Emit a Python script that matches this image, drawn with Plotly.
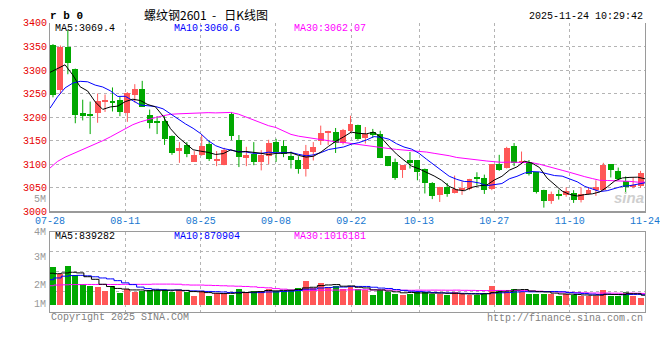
import plotly.graph_objects as go
import pandas as pd

# ---------------- data ----------------
dates = [
    "07-28","07-29","07-30","07-31","08-01","08-04","08-05","08-06","08-07","08-08",
    "08-11","08-12","08-13","08-14","08-15","08-18","08-19","08-20","08-21","08-22",
    "08-25","08-26","08-27","08-28","08-29","09-01","09-02","09-03","09-04","09-05",
    "09-08","09-09","09-10","09-11","09-12","09-15","09-16","09-17","09-18","09-19",
    "09-22","09-23","09-24","09-25","09-26","09-29","09-30","10-09","10-10","10-13",
    "10-14","10-15","10-16","10-17","10-20","10-21","10-22","10-23","10-24","10-27",
    "10-28","10-29","10-30","10-31","11-03","11-04","11-05","11-06","11-07","11-10",
    "11-11","11-12","11-13","11-14","11-17","11-18","11-19","11-20","11-21","11-24",
]
tick_labels = ["07-28", "08-11", "08-25", "09-08", "09-22", "10-13", "10-27", "11-10", "11-24"]

opens = [3353, 3258, 3350, 3302, 3210, 3207, 3209, 3234, 3235, 3236,
         3209, 3248, 3261, 3205, 3190, 3192, 3161, 3130, 3141, 3106,
         3120, 3143, 3108, 3098, 3207, 3151, 3115, 3121, 3106, 3118,
         3147, 3139, 3117, 3110, 3091, 3127, 3149, 3167, 3168, 3146,
         3171, 3183, 3156, 3168, 3164, 3117, 3106, 3088, 3110, 3109,
         3091, 3060, 3035, 3053, 3040, 3045, 3047, 3072, 3072, 3047,
         3100, 3093, 3139, 3103, 3106, 3083, 3046, 3023, 3038, 3035,
         3040, 3025, 3038, 3046, 3046, 3100, 3086, 3064, 3053, 3055]
closes = [3248, 3350, 3316, 3205, 3203, 3203, 3235, 3236, 3231, 3212,
          3251, 3260, 3222, 3188, 3188, 3154, 3125, 3134, 3121, 3120,
          3139, 3112, 3112, 3130, 3160, 3115, 3119, 3104, 3119, 3146,
          3127, 3121, 3109, 3091, 3128, 3136, 3167, 3169, 3146, 3173,
          3186, 3154, 3164, 3164, 3113, 3096, 3072, 3098, 3102, 3083,
          3060, 3033, 3052, 3037, 3047, 3050, 3069, 3069, 3045, 3100,
          3089, 3135, 3103, 3106, 3079, 3042, 3023, 3038, 3033, 3044,
          3025, 3038, 3046, 3053, 3098, 3089, 3069, 3052, 3055, 3081]
highs = [3355, 3352, 3385, 3303, 3237, 3233, 3250, 3248, 3263, 3243,
         3253, 3270, 3277, 3216, 3202, 3202, 3161, 3147, 3147, 3128,
         3162, 3151, 3128, 3135, 3211, 3162, 3137, 3147, 3130, 3152,
         3154, 3151, 3127, 3117, 3141, 3147, 3182, 3171, 3177, 3175,
         3203, 3184, 3179, 3175, 3171, 3117, 3112, 3098, 3126, 3109,
         3091, 3062, 3052, 3060, 3076, 3064, 3069, 3083, 3078, 3100,
         3120, 3137, 3145, 3127, 3109, 3083, 3046, 3042, 3046, 3051,
         3045, 3051, 3051, 3066, 3103, 3100, 3093, 3074, 3072, 3086]
lows = [3242, 3249, 3291, 3187, 3193, 3164, 3188, 3211, 3212, 3202,
        3190, 3231, 3222, 3176, 3164, 3141, 3120, 3103, 3115, 3106,
        3118, 3107, 3096, 3098, 3151, 3094, 3096, 3098, 3087, 3100,
        3105, 3115, 3091, 3080, 3074, 3108, 3141, 3141, 3124, 3142,
        3167, 3152, 3144, 3156, 3113, 3096, 3067, 3071, 3091, 3066,
        3038, 3026, 3020, 3031, 3038, 3035, 3045, 3055, 3037, 3045,
        3086, 3091, 3096, 3100, 3076, 3038, 3008, 3016, 3025, 3031,
        3018, 3019, 3036, 3033, 3044, 3072, 3066, 3038, 3049, 3050]
volumes = [3240000, 2630000, 3330000, 2590000, 1850000, 1630000, 1540000, 1220000, 1630000, 1060000,
           1360000, 1170000, 1220000, 1300000, 1300000, 1300000, 1170000, 1300000, 1170000, 810000,
           1220000, 810000, 1030000, 1030000, 900000, 1360000, 1030000, 1220000, 1220000, 1360000,
           1220000, 1220000, 1300000, 1520000, 2040000, 1490000, 1920000, 1570000, 1680000, 1360000,
           1600000, 1360000, 1280000, 870000, 1330000, 1140000, 1010000, 870000, 1010000, 1140000,
           1140000, 930000, 930000, 870000, 1140000, 930000, 870000, 870000, 1010000, 1630000,
           1280000, 1140000, 1410000, 1140000, 1010000, 1010000, 1010000, 930000, 790000, 930000,
           870000, 810000, 810000, 810000, 1280000, 810000, 810000, 1140000, 810000, 650000]

# moving-average values at the start of the window (they depend on earlier sessions)
ma5_head = [3295, 3303, 3311, 3290]
ma10_head = [3219, 3243, 3262, 3272, 3276, 3275, 3268, 3264, 3256]
ma30_head = [3092, 3106, 3115, 3122, 3128, 3136, 3143, 3150, 3158, 3167,
             3176, 3184, 3190, 3195, 3199, 3203, 3206, 3207, 3208, 3209,
             3209, 3209.5, 3209, 3210, 3210, 3206.5, 3200, 3194.5, 3188]
vma5_head = [2700000, 2660000, 2720000, 2780000]
vma10_head = [2150000, 2300000, 2450000, 2500000, 2520000, 2480000, 2400000, 2300000, 2220000]
vma30_head = [1640000, 1700000, 1720000, 1740000, 1740000, 1750000, 1750000, 1750000, 1750000, 1750000,
              1760000, 1760000, 1760000, 1760000, 1780000, 1780000, 1780000, 1770000, 1720000, 1700000,
              1700000, 1680000, 1660000, 1640000, 1620000, 1600000, 1580000, 1550000, 1500000]

# legend values as printed on the chart
price_ma_text = ["MA5:3069.4", "MA10:3060.6", "MA30:3062.07"]
vol_ma_text = ["MA5:839282", "MA10:870904", "MA30:1016181"]

price_ticks = [3000, 3050, 3100, 3150, 3200, 3250, 3300, 3350, 3400]
vol_labels = ["1M", "2M", "3M", "4M", "5M"]

# ---------------- derived ----------------
def rolling_mean(vals, w):
    return pd.Series(vals, dtype=float).rolling(w).mean().tolist()

ma5 = ma5_head + rolling_mean(closes, 5)[4:]
ma10 = ma10_head + rolling_mean(closes, 10)[9:]
ma30 = ma30_head + rolling_mean(closes, 30)[29:]
vma5 = vma5_head + rolling_mean(volumes, 5)[4:]
vma10 = vma10_head + rolling_mean(volumes, 10)[9:]
vma30 = vma30_head + rolling_mean(volumes, 30)[29:]

N = len(closes)
idx = list(range(N))
X_LO, X_HI = -0.4, 79.6
# MA lines and the date grid are spread over the full width of the panel
line_x = [X_LO + i * (X_HI - X_LO) / (N - 1) for i in idx]
tick_pos = [min(max(line_x[dates.index(t)], X_LO + 1e-6), X_HI - 1e-6) for t in tick_labels]

RED, GREEN = "#FF5757", "#00A800"
up = [c >= o for o, c in zip(opens, closes)]
colors = [RED if u else GREEN for u in up]

W, H = 660, 360
L, R = 50, 10
def pxx(p):
    return (p - L) / (W - L - R)
def pxy(p):
    return (H - p) / H

MONO = "Liberation Mono, DejaVu Sans Mono, monospace"

fig = go.Figure()

# wicks
for col, flag in ((RED, True), (GREEN, False)):
    wx, wy = [], []
    for i in idx:
        if up[i] == flag:
            wx += [i, i, None]
            wy += [lows[i], highs[i], None]
    fig.add_trace(go.Scatter(x=wx, y=wy, mode="lines", line=dict(color=col, width=1),
                             hoverinfo="skip", xaxis="x", yaxis="y"))

# bodies
fig.add_trace(go.Bar(x=idx, y=[max(abs(c - o), 1.5) for o, c in zip(opens, closes)],
                     base=[min(o, c) for o, c in zip(opens, closes)], width=0.8,
                     marker=dict(color=colors, line=dict(width=0)), xaxis="x", yaxis="y"))

for ys, col in ((ma30, "#FF00FF"), (ma10, "#0000FF"), (ma5, "#000000")):
    fig.add_trace(go.Scatter(x=line_x, y=ys, mode="lines", line=dict(color=col, width=1),
                             xaxis="x", yaxis="y"))

# volume
fig.add_trace(go.Bar(x=idx, y=volumes, width=0.8, marker=dict(color=colors, line=dict(width=0)),
                     xaxis="x2", yaxis="y2"))
for ys, col in ((vma30, "#FF00FF"), (vma10, "#0000FF"), (vma5, "#000000")):
    fig.add_trace(go.Scatter(x=line_x, y=ys, mode="lines", line=dict(color=col, width=1, shape="hvh"),
                             xaxis="x2", yaxis="y2"))

GRID = "#B4B4B4"
BORDER = "#9A9A9A"
main_dom = [pxy(213.5), pxy(18.5)]
vol_dom = [pxy(317.5), pxy(234.5)]
v_lo, v_hi = -570000, 6210000
vol_grid = [v_lo + k * (v_hi - v_lo) / 4 for k in (1, 2, 3)]

fig.update_layout(
    width=W, height=H, margin=dict(l=L, r=R, t=0, b=0),
    paper_bgcolor="white", plot_bgcolor="white", showlegend=False, bargap=0,
    xaxis=dict(domain=[0, 1], range=[X_LO, X_HI], anchor="y", tickmode="array",
               tickvals=tick_pos, ticktext=tick_labels, ticks="",
               tickfont=dict(family=MONO, size=10, color="#1878D0"),
               ticklabeloverflow="allow", ticklabelstandoff=-1,
               showgrid=True, gridcolor=GRID, griddash="dot", gridwidth=1,
               showline=True, linecolor=BORDER, linewidth=2, zeroline=False, fixedrange=True),
    yaxis=dict(domain=main_dom, range=[3000, 3400], tickmode="array", tickvals=price_ticks,
               ticks="", tickfont=dict(family=MONO, size=10, color="#E60000"),
               showgrid=True, gridcolor=GRID, griddash="dot", gridwidth=1,
               showline=True, linecolor=BORDER, linewidth=1, mirror=True, zeroline=False),
    xaxis2=dict(domain=[0, 1], range=[X_LO, X_HI], anchor="y2", tickmode="array",
                tickvals=tick_pos, showticklabels=False, ticks="",
                showgrid=True, gridcolor=GRID, griddash="dot", gridwidth=1,
                showline=True, linecolor=BORDER, linewidth=1, mirror=True, zeroline=False),
    yaxis2=dict(domain=vol_dom, range=[v_lo, v_hi], tickmode="array", tickvals=vol_grid,
                showticklabels=False, ticks="",
                showgrid=True, gridcolor=GRID, griddash="dot", gridwidth=1,
                showline=True, linecolor=BORDER, linewidth=1, mirror=True, zeroline=False),
)

def note(text, x, y, color="#000000", size=10, xanchor="left", family=MONO, **kw):
    fig.add_annotation(text=text, x=pxx(x), y=pxy(y), xref="paper", yref="paper",
                       xanchor=xanchor, yanchor="middle", showarrow=False,
                       font=dict(family=family, size=size, color=color), **kw)

NB = "\u00a0"
note("<b>r b 0</b>", 48, 11, size=11, family="Liberation Mono, monospace")
note("螺纹钢2601" + NB * 2 + "-" + NB * 3 + "日K线图", 207, 10, size=12, xanchor="center",
     family="Noto Sans CJK SC, sans-serif")
note("2025-11-24 10:29:42", 650, 12, xanchor="right")
note(price_ma_text[0], 53, 24)
note(price_ma_text[1], 173, 24, color="#0000FF")
note(price_ma_text[2], 294, 24, color="#FF00FF")
note(vol_ma_text[0], 53, 239)
note(vol_ma_text[1], 173, 239, color="#0000FF")
note(vol_ma_text[2], 294, 239, color="#FF00FF")
for lbl, yy in zip(vol_labels, [310, 290.5, 261, 235, 201.5]):
    note(lbl, 47, yy, color="#999999", xanchor="right", borderpad=0)
note("Copyright 2025 SINA.COM", 49, 323, color="#808080")
note("http://finance.sina.com.cn", 650, 324, color="#808080", xanchor="right")
note("<i><b>sina</b></i>", 634, 199, color="#CFCFCF", size=15, xanchor="center",
     family="Liberation Sans, Arial, sans-serif")

fig.write_html("out.html", config={"displayModeBar": False},
               post_script="document.body.style.margin='0px';")
